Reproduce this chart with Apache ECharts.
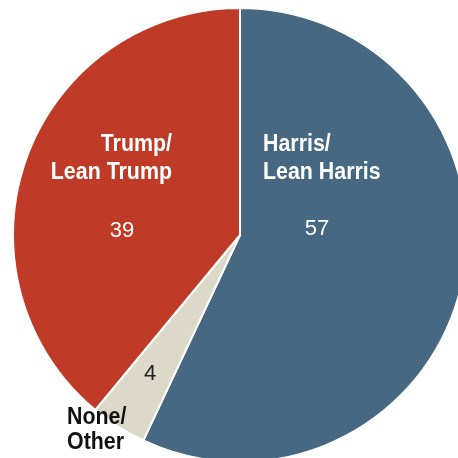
<!DOCTYPE html>
<html>
<head>
<meta charset="utf-8">
<script src="https://cdn.jsdelivr.net/npm/echarts@6/dist/echarts.min.js"></script>
<style>
  html, body { margin: 0; padding: 0; background: #fff; }
  #chart { width: 458px; height: 458px; }
</style>
</head>
<body>
<div id="chart"></div>
<script>
// Vote preference shares (%)
const categories = ['Harris/\nLean Harris', 'None/\nOther', 'Trump/\nLean Trump'];
const shares = [57, 4, 39];
const colors = ['#466882', '#DCD9C9', '#BF3B27'];

const FONT = '"Liberation Sans", Arial, sans-serif';
const cx = 240, cy = 235, r = 227;

const chart = echarts.init(document.getElementById('chart'), null, { renderer: 'canvas' });

// Condensed bold look for category names
function nameText(x, y, text, fill, align, lh) {
  return {
    type: 'text', z: 100, x: x, y: y, scaleX: 0.93, originX: 0, originY: 0,
    style: {
      text: text, fill: fill, align: align, verticalAlign: 'top',
      fontFamily: FONT, fontWeight: 'bold', fontSize: 23, lineHeight: lh
    }
  };
}
function valueText(x, y, text, fill) {
  return {
    type: 'text', z: 100, x: x, y: y,
    style: {
      text: text, fill: fill, align: 'center', verticalAlign: 'middle',
      fontFamily: FONT, fontSize: 22
    }
  };
}

chart.setOption({
  animation: false,
  series: [{
    type: 'pie',
    center: [cx, cy],
    radius: [0, r],
    startAngle: 90,
    clockwise: true,
    label: { show: false },
    labelLine: { show: false },
    itemStyle: { borderColor: '#fff', borderWidth: 2 },
    emphasis: { disabled: true },
    data: categories.map((c, i) => ({ name: c, value: shares[i], itemStyle: { color: colors[i] } }))
  }],
  graphic: [
    // Harris
    nameText(263, 131, categories[0], '#fff', 'left', 28),
    valueText(317, 229, String(shares[0]), '#fff'),
    // Trump
    nameText(172, 131, categories[2], '#fff', 'right', 28),
    valueText(122, 231, String(shares[2]), '#fff'),
    // None / Other
    valueText(150, 374, String(shares[1]), '#222'),
    nameText(67, 405, categories[1], '#111', 'left', 25)
  ]
});
</script>
</body>
</html>
